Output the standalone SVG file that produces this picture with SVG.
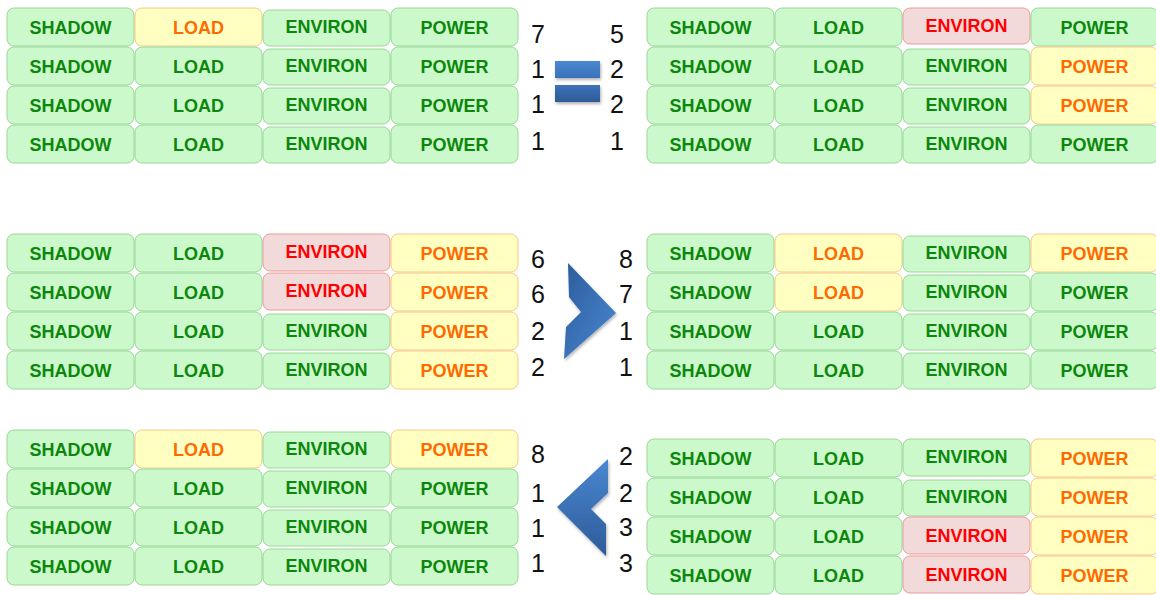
<svg xmlns="http://www.w3.org/2000/svg" width="1156" height="595" viewBox="0 0 1156 595">
<style>
rect.c{stroke-width:1}
.g rect{fill:#cbf9cb;stroke:#98d898}
.g text{fill:#0c870c}
.y rect{fill:#ffffc2;stroke:#f7c88a}
.y text{fill:#ff6a00}
.r rect{fill:#f2dada;stroke:#ef9a9a}
.r text{fill:#ff0000}
.cell text{font-family:"Liberation Sans",Arial,sans-serif;font-weight:bold;font-size:18px;text-anchor:middle}
.num{font-family:"Liberation Sans",Arial,sans-serif;font-size:25px;fill:#111;text-anchor:middle}
</style>
<defs>
<linearGradient id="eq1" x1="0" y1="0" x2="0" y2="1"><stop offset="0" stop-color="#4b88d2"/><stop offset="1" stop-color="#3a71ba"/></linearGradient>
<linearGradient id="eq2" x1="0" y1="0" x2="0" y2="1"><stop offset="0" stop-color="#3d72b8"/><stop offset="1" stop-color="#2d5b98"/></linearGradient>
<linearGradient id="chR" x1="0" y1="0" x2="1" y2="1"><stop offset="0" stop-color="#2c5c9c"/><stop offset="1" stop-color="#4a87d2"/></linearGradient>
<linearGradient id="chL" x1="0" y1="0" x2="0" y2="1"><stop offset="0" stop-color="#4a87d2"/><stop offset="1" stop-color="#2d5b98"/></linearGradient>
<filter id="sh" x="-20%" y="-20%" width="150%" height="150%"><feDropShadow dx="1" dy="2" stdDeviation="1.5" flood-color="#000" flood-opacity="0.3"/></filter>
</defs>

<!-- Grid top-left -->
<g id="grid-tl" transform="translate(7,8)">
<g id="tl-1-shadow" class="cell g"><rect x="0" y="0" width="127" height="38" rx="7"/><text x="63.5" y="25.5">SHADOW</text></g>
<g id="tl-1-load" class="cell y"><rect x="128" y="0" width="127" height="38" rx="7"/><text x="191.5" y="25.5">LOAD</text></g>
<g id="tl-1-environ" class="cell g"><rect x="256" y="2" width="127" height="36" rx="7"/><text x="319.5" y="24.5">ENVIRON</text></g>
<g id="tl-1-power" class="cell g"><rect x="384" y="0" width="127" height="38" rx="7"/><text x="447.5" y="25.5">POWER</text></g>
<g id="tl-2-shadow" class="cell g"><rect x="0" y="39" width="127" height="38" rx="7"/><text x="63.5" y="64.5">SHADOW</text></g>
<g id="tl-2-load" class="cell g"><rect x="128" y="39" width="127" height="38" rx="7"/><text x="191.5" y="64.5">LOAD</text></g>
<g id="tl-2-environ" class="cell g"><rect x="256" y="41" width="127" height="36" rx="7"/><text x="319.5" y="63.5">ENVIRON</text></g>
<g id="tl-2-power" class="cell g"><rect x="384" y="39" width="127" height="38" rx="7"/><text x="447.5" y="64.5">POWER</text></g>
<g id="tl-3-shadow" class="cell g"><rect x="0" y="78" width="127" height="38" rx="7"/><text x="63.5" y="103.5">SHADOW</text></g>
<g id="tl-3-load" class="cell g"><rect x="128" y="78" width="127" height="38" rx="7"/><text x="191.5" y="103.5">LOAD</text></g>
<g id="tl-3-environ" class="cell g"><rect x="256" y="80" width="127" height="36" rx="7"/><text x="319.5" y="102.5">ENVIRON</text></g>
<g id="tl-3-power" class="cell g"><rect x="384" y="78" width="127" height="38" rx="7"/><text x="447.5" y="103.5">POWER</text></g>
<g id="tl-4-shadow" class="cell g"><rect x="0" y="117" width="127" height="38" rx="7"/><text x="63.5" y="142.5">SHADOW</text></g>
<g id="tl-4-load" class="cell g"><rect x="128" y="117" width="127" height="38" rx="7"/><text x="191.5" y="142.5">LOAD</text></g>
<g id="tl-4-environ" class="cell g"><rect x="256" y="119" width="127" height="36" rx="7"/><text x="319.5" y="141.5">ENVIRON</text></g>
<g id="tl-4-power" class="cell g"><rect x="384" y="117" width="127" height="38" rx="7"/><text x="447.5" y="142.5">POWER</text></g>
</g>

<!-- Grid top-right -->
<g id="grid-tr" transform="translate(647,8)">
<g id="tr-1-shadow" class="cell g"><rect x="0" y="0" width="127" height="38" rx="7"/><text x="63.5" y="25.5">SHADOW</text></g>
<g id="tr-1-load" class="cell g"><rect x="128" y="0" width="127" height="38" rx="7"/><text x="191.5" y="25.5">LOAD</text></g>
<g id="tr-1-environ" class="cell r"><rect x="256" y="0" width="127" height="36" rx="7"/><text x="319.5" y="23.5">ENVIRON</text></g>
<g id="tr-1-power" class="cell g"><rect x="384" y="0" width="127" height="38" rx="7"/><text x="447.5" y="25.5">POWER</text></g>
<g id="tr-2-shadow" class="cell g"><rect x="0" y="39" width="127" height="38" rx="7"/><text x="63.5" y="64.5">SHADOW</text></g>
<g id="tr-2-load" class="cell g"><rect x="128" y="39" width="127" height="38" rx="7"/><text x="191.5" y="64.5">LOAD</text></g>
<g id="tr-2-environ" class="cell g"><rect x="256" y="41" width="127" height="36" rx="7"/><text x="319.5" y="63.5">ENVIRON</text></g>
<g id="tr-2-power" class="cell y"><rect x="384" y="39" width="127" height="38" rx="7"/><text x="447.5" y="64.5">POWER</text></g>
<g id="tr-3-shadow" class="cell g"><rect x="0" y="78" width="127" height="38" rx="7"/><text x="63.5" y="103.5">SHADOW</text></g>
<g id="tr-3-load" class="cell g"><rect x="128" y="78" width="127" height="38" rx="7"/><text x="191.5" y="103.5">LOAD</text></g>
<g id="tr-3-environ" class="cell g"><rect x="256" y="80" width="127" height="36" rx="7"/><text x="319.5" y="102.5">ENVIRON</text></g>
<g id="tr-3-power" class="cell y"><rect x="384" y="78" width="127" height="38" rx="7"/><text x="447.5" y="103.5">POWER</text></g>
<g id="tr-4-shadow" class="cell g"><rect x="0" y="117" width="127" height="38" rx="7"/><text x="63.5" y="142.5">SHADOW</text></g>
<g id="tr-4-load" class="cell g"><rect x="128" y="117" width="127" height="38" rx="7"/><text x="191.5" y="142.5">LOAD</text></g>
<g id="tr-4-environ" class="cell g"><rect x="256" y="119" width="127" height="36" rx="7"/><text x="319.5" y="141.5">ENVIRON</text></g>
<g id="tr-4-power" class="cell g"><rect x="384" y="117" width="127" height="38" rx="7"/><text x="447.5" y="142.5">POWER</text></g>
</g>

<!-- Grid middle-left -->
<g id="grid-ml" transform="translate(7,234)">
<g id="ml-1-shadow" class="cell g"><rect x="0" y="0" width="127" height="38" rx="7"/><text x="63.5" y="25.5">SHADOW</text></g>
<g id="ml-1-load" class="cell g"><rect x="128" y="0" width="127" height="38" rx="7"/><text x="191.5" y="25.5">LOAD</text></g>
<g id="ml-1-environ" class="cell r"><rect x="256" y="0" width="127" height="37" rx="7"/><text x="319.5" y="23.5">ENVIRON</text></g>
<g id="ml-1-power" class="cell y"><rect x="384" y="0" width="127" height="38" rx="7"/><text x="447.5" y="25.5">POWER</text></g>
<g id="ml-2-shadow" class="cell g"><rect x="0" y="39" width="127" height="38" rx="7"/><text x="63.5" y="64.5">SHADOW</text></g>
<g id="ml-2-load" class="cell g"><rect x="128" y="39" width="127" height="38" rx="7"/><text x="191.5" y="64.5">LOAD</text></g>
<g id="ml-2-environ" class="cell r"><rect x="256" y="39" width="127" height="37" rx="7"/><text x="319.5" y="62.5">ENVIRON</text></g>
<g id="ml-2-power" class="cell y"><rect x="384" y="39" width="127" height="38" rx="7"/><text x="447.5" y="64.5">POWER</text></g>
<g id="ml-3-shadow" class="cell g"><rect x="0" y="78" width="127" height="38" rx="7"/><text x="63.5" y="103.5">SHADOW</text></g>
<g id="ml-3-load" class="cell g"><rect x="128" y="78" width="127" height="38" rx="7"/><text x="191.5" y="103.5">LOAD</text></g>
<g id="ml-3-environ" class="cell g"><rect x="256" y="80" width="127" height="36" rx="7"/><text x="319.5" y="102.5">ENVIRON</text></g>
<g id="ml-3-power" class="cell y"><rect x="384" y="78" width="127" height="38" rx="7"/><text x="447.5" y="103.5">POWER</text></g>
<g id="ml-4-shadow" class="cell g"><rect x="0" y="117" width="127" height="38" rx="7"/><text x="63.5" y="142.5">SHADOW</text></g>
<g id="ml-4-load" class="cell g"><rect x="128" y="117" width="127" height="38" rx="7"/><text x="191.5" y="142.5">LOAD</text></g>
<g id="ml-4-environ" class="cell g"><rect x="256" y="119" width="127" height="36" rx="7"/><text x="319.5" y="141.5">ENVIRON</text></g>
<g id="ml-4-power" class="cell y"><rect x="384" y="117" width="127" height="38" rx="7"/><text x="447.5" y="142.5">POWER</text></g>
</g>

<!-- Grid middle-right -->
<g id="grid-mr" transform="translate(647,234)">
<g id="mr-1-shadow" class="cell g"><rect x="0" y="0" width="127" height="38" rx="7"/><text x="63.5" y="25.5">SHADOW</text></g>
<g id="mr-1-load" class="cell y"><rect x="128" y="0" width="127" height="38" rx="7"/><text x="191.5" y="25.5">LOAD</text></g>
<g id="mr-1-environ" class="cell g"><rect x="256" y="2" width="127" height="36" rx="7"/><text x="319.5" y="24.5">ENVIRON</text></g>
<g id="mr-1-power" class="cell y"><rect x="384" y="0" width="127" height="38" rx="7"/><text x="447.5" y="25.5">POWER</text></g>
<g id="mr-2-shadow" class="cell g"><rect x="0" y="39" width="127" height="38" rx="7"/><text x="63.5" y="64.5">SHADOW</text></g>
<g id="mr-2-load" class="cell y"><rect x="128" y="39" width="127" height="38" rx="7"/><text x="191.5" y="64.5">LOAD</text></g>
<g id="mr-2-environ" class="cell g"><rect x="256" y="41" width="127" height="36" rx="7"/><text x="319.5" y="63.5">ENVIRON</text></g>
<g id="mr-2-power" class="cell g"><rect x="384" y="39" width="127" height="38" rx="7"/><text x="447.5" y="64.5">POWER</text></g>
<g id="mr-3-shadow" class="cell g"><rect x="0" y="78" width="127" height="38" rx="7"/><text x="63.5" y="103.5">SHADOW</text></g>
<g id="mr-3-load" class="cell g"><rect x="128" y="78" width="127" height="38" rx="7"/><text x="191.5" y="103.5">LOAD</text></g>
<g id="mr-3-environ" class="cell g"><rect x="256" y="80" width="127" height="36" rx="7"/><text x="319.5" y="102.5">ENVIRON</text></g>
<g id="mr-3-power" class="cell g"><rect x="384" y="78" width="127" height="38" rx="7"/><text x="447.5" y="103.5">POWER</text></g>
<g id="mr-4-shadow" class="cell g"><rect x="0" y="117" width="127" height="38" rx="7"/><text x="63.5" y="142.5">SHADOW</text></g>
<g id="mr-4-load" class="cell g"><rect x="128" y="117" width="127" height="38" rx="7"/><text x="191.5" y="142.5">LOAD</text></g>
<g id="mr-4-environ" class="cell g"><rect x="256" y="119" width="127" height="36" rx="7"/><text x="319.5" y="141.5">ENVIRON</text></g>
<g id="mr-4-power" class="cell g"><rect x="384" y="117" width="127" height="38" rx="7"/><text x="447.5" y="142.5">POWER</text></g>
</g>

<!-- Grid bottom-left -->
<g id="grid-bl" transform="translate(7,430)">
<g id="bl-1-shadow" class="cell g"><rect x="0" y="0" width="127" height="38" rx="7"/><text x="63.5" y="25.5">SHADOW</text></g>
<g id="bl-1-load" class="cell y"><rect x="128" y="0" width="127" height="38" rx="7"/><text x="191.5" y="25.5">LOAD</text></g>
<g id="bl-1-environ" class="cell g"><rect x="256" y="2" width="127" height="36" rx="7"/><text x="319.5" y="24.5">ENVIRON</text></g>
<g id="bl-1-power" class="cell y"><rect x="384" y="0" width="127" height="38" rx="7"/><text x="447.5" y="25.5">POWER</text></g>
<g id="bl-2-shadow" class="cell g"><rect x="0" y="39" width="127" height="38" rx="7"/><text x="63.5" y="64.5">SHADOW</text></g>
<g id="bl-2-load" class="cell g"><rect x="128" y="39" width="127" height="38" rx="7"/><text x="191.5" y="64.5">LOAD</text></g>
<g id="bl-2-environ" class="cell g"><rect x="256" y="41" width="127" height="36" rx="7"/><text x="319.5" y="63.5">ENVIRON</text></g>
<g id="bl-2-power" class="cell g"><rect x="384" y="39" width="127" height="38" rx="7"/><text x="447.5" y="64.5">POWER</text></g>
<g id="bl-3-shadow" class="cell g"><rect x="0" y="78" width="127" height="38" rx="7"/><text x="63.5" y="103.5">SHADOW</text></g>
<g id="bl-3-load" class="cell g"><rect x="128" y="78" width="127" height="38" rx="7"/><text x="191.5" y="103.5">LOAD</text></g>
<g id="bl-3-environ" class="cell g"><rect x="256" y="80" width="127" height="36" rx="7"/><text x="319.5" y="102.5">ENVIRON</text></g>
<g id="bl-3-power" class="cell g"><rect x="384" y="78" width="127" height="38" rx="7"/><text x="447.5" y="103.5">POWER</text></g>
<g id="bl-4-shadow" class="cell g"><rect x="0" y="117" width="127" height="38" rx="7"/><text x="63.5" y="142.5">SHADOW</text></g>
<g id="bl-4-load" class="cell g"><rect x="128" y="117" width="127" height="38" rx="7"/><text x="191.5" y="142.5">LOAD</text></g>
<g id="bl-4-environ" class="cell g"><rect x="256" y="119" width="127" height="36" rx="7"/><text x="319.5" y="141.5">ENVIRON</text></g>
<g id="bl-4-power" class="cell g"><rect x="384" y="117" width="127" height="38" rx="7"/><text x="447.5" y="142.5">POWER</text></g>
</g>

<!-- Grid bottom-right -->
<g id="grid-br" transform="translate(647,439)">
<g id="br-1-shadow" class="cell g"><rect x="0" y="0" width="127" height="38" rx="7"/><text x="63.5" y="25.5">SHADOW</text></g>
<g id="br-1-load" class="cell g"><rect x="128" y="0" width="127" height="38" rx="7"/><text x="191.5" y="25.5">LOAD</text></g>
<g id="br-1-environ" class="cell g"><rect x="256" y="0" width="127" height="37" rx="7"/><text x="319.5" y="23.5">ENVIRON</text></g>
<g id="br-1-power" class="cell y"><rect x="384" y="0" width="127" height="38" rx="7"/><text x="447.5" y="25.5">POWER</text></g>
<g id="br-2-shadow" class="cell g"><rect x="0" y="39" width="127" height="38" rx="7"/><text x="63.5" y="64.5">SHADOW</text></g>
<g id="br-2-load" class="cell g"><rect x="128" y="39" width="127" height="38" rx="7"/><text x="191.5" y="64.5">LOAD</text></g>
<g id="br-2-environ" class="cell g"><rect x="256" y="41" width="127" height="36" rx="7"/><text x="319.5" y="63.5">ENVIRON</text></g>
<g id="br-2-power" class="cell y"><rect x="384" y="39" width="127" height="38" rx="7"/><text x="447.5" y="64.5">POWER</text></g>
<g id="br-3-shadow" class="cell g"><rect x="0" y="78" width="127" height="38" rx="7"/><text x="63.5" y="103.5">SHADOW</text></g>
<g id="br-3-load" class="cell g"><rect x="128" y="78" width="127" height="38" rx="7"/><text x="191.5" y="103.5">LOAD</text></g>
<g id="br-3-environ" class="cell r"><rect x="256" y="78" width="127" height="37" rx="7"/><text x="319.5" y="102.5">ENVIRON</text></g>
<g id="br-3-power" class="cell y"><rect x="384" y="78" width="127" height="38" rx="7"/><text x="447.5" y="103.5">POWER</text></g>
<g id="br-4-shadow" class="cell g"><rect x="0" y="117" width="127" height="38" rx="7"/><text x="63.5" y="142.5">SHADOW</text></g>
<g id="br-4-load" class="cell g"><rect x="128" y="117" width="127" height="38" rx="7"/><text x="191.5" y="142.5">LOAD</text></g>
<g id="br-4-environ" class="cell r"><rect x="256" y="117" width="127" height="37" rx="7"/><text x="319.5" y="141.5">ENVIRON</text></g>
<g id="br-4-power" class="cell y"><rect x="384" y="117" width="127" height="38" rx="7"/><text x="447.5" y="142.5">POWER</text></g>
</g>

<!-- Scores -->
<g id="scores">
<text class="num" x="538" y="43">7</text>
<text class="num" x="538" y="78">1</text>
<text class="num" x="538" y="113">1</text>
<text class="num" x="538" y="150">1</text>
<text class="num" x="617" y="43">5</text>
<text class="num" x="617" y="78">2</text>
<text class="num" x="617" y="113">2</text>
<text class="num" x="617" y="150">1</text>

<text class="num" x="538" y="268">6</text>
<text class="num" x="538" y="303">6</text>
<text class="num" x="538" y="340">2</text>
<text class="num" x="538" y="376">2</text>
<text class="num" x="626" y="268">8</text>
<text class="num" x="626" y="303">7</text>
<text class="num" x="626" y="340">1</text>
<text class="num" x="626" y="376">1</text>

<text class="num" x="538" y="463">8</text>
<text class="num" x="538" y="502">1</text>
<text class="num" x="538" y="537">1</text>
<text class="num" x="538" y="572">1</text>
<text class="num" x="626" y="465">2</text>
<text class="num" x="626" y="502">2</text>
<text class="num" x="626" y="536">3</text>
<text class="num" x="626" y="572">3</text>
</g>

<!-- Comparison symbols -->
<g id="connectors">
<g id="equals" filter="url(#sh)">
<rect x="555" y="61" width="45" height="17" fill="url(#eq1)"/>
<rect x="555" y="85" width="45" height="17" fill="url(#eq2)"/>
</g>
<polygon id="greater" filter="url(#sh)" points="568,263 616,313 564,359 566,327 581,312 569,297" fill="url(#chR)"/>
<polygon id="less" filter="url(#sh)" points="608,459 608,493 591,509 606,524 606,556 557,507" fill="url(#chL)"/>
</g>
</svg>
